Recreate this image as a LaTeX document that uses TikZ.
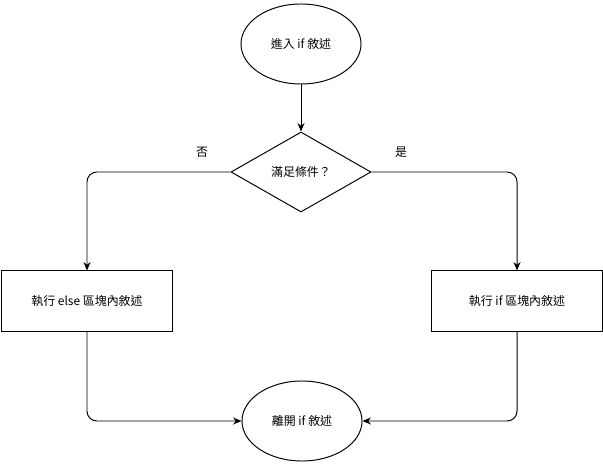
\documentclass[tikz,border=0pt]{standalone}
\usepackage{fontspec}
\setmainfont{Noto Sans CJK TC}
\usetikzlibrary{shapes.geometric,arrows.meta}

\begin{document}
\begin{tikzpicture}[x=0.025cm,y=-0.025cm,line width=0.7pt,
  font=\fontsize{8.5}{10}\selectfont,
  term/.style={draw,ellipse,minimum width=3cm,minimum height=2cm,inner sep=0pt},
  cond/.style={draw,diamond,minimum width=3.5cm,minimum height=2cm,inner sep=0pt},
  box/.style={draw,rectangle,minimum width=4.25cm,minimum height=1.5cm,inner sep=0pt},
  arr/.style={-{Stealth[length=6pt,width=5pt]},rounded corners=7pt}]
\useasboundingbox (0,0) rectangle (603,471);

%節點
\node[term] (enter) at (301,44) {進入 if 敘述};
\node[cond] (check) at (301,172) {滿足條件？};
\node[box] (elseblock) at (87,301) {執行 else 區塊內敘述};
\node[box] (ifblock) at (517,301) {執行 if 區塊內敘述};
\node[term] (leave) at (302,421) {離開 if 敘述};

%分支標籤
\node (no) at (202,152) {否};
\node (yes) at (401,152) {是};

%連線
\draw[arr] (enter) -- (check);
\draw[arr] (check.west) -| (elseblock);
\draw[arr] (check.east) -| (ifblock);
\draw[arr] (elseblock) |- (leave);
\draw[arr] (ifblock) |- (leave);
\end{tikzpicture}
\end{document}
